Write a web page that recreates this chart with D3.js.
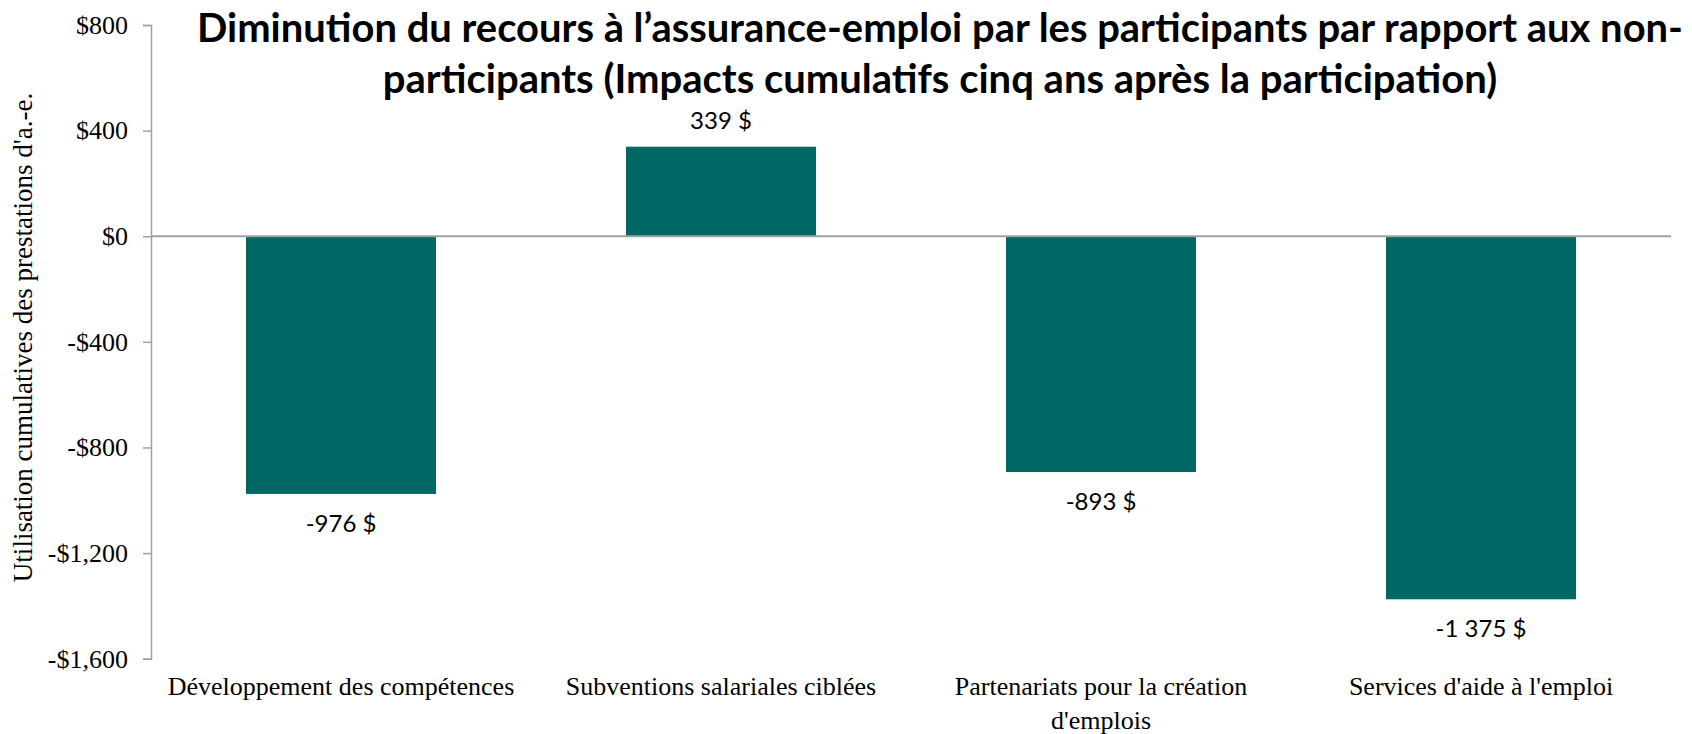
<!DOCTYPE html>
<html>
<head>
<meta charset="utf-8">
<script src="https://cdn.jsdelivr.net/npm/d3@7"></script>
<style>
  body { margin: 0; background: #fff; }
  svg { display: block; }
</style>
</head>
<body>
<svg id="chart"></svg>
<script>
// data
const categories = [
  "Développement des compétences",
  "Subventions salariales ciblées",
  "Partenariats pour la création d'emplois",
  "Services d'aide à l'emploi"
];
const values = [-976, 339, -893, -1375];
const valueLabels = ["-976 $", "339 $", "-893 $", "-1 375 $"];
const yTicks = [-1600, -1200, -800, -400, 0, 400, 800];
const titleLines = [
  "Diminution du recours à l’assurance-emploi par les participants par rapport aux non-",
  "participants (Impacts cumulatifs cinq ans après la participation)"
];
const yTitle = "Utilisation cumulatives des prestations d'a.-e.";

// dimensions
const width = 1692;
const height = 734;
const marginLeft = 151;
const marginRight = 21;
const plotTop = 25;
const plotBottom = 658.7;

const svg = d3.select('#chart')
  .attr('width', width)
  .attr('height', height);

const xScale = d3.scaleBand()
  .domain(categories)
  .range([marginLeft, width - marginRight])
  .paddingInner(0.5)
  .paddingOuter(0.25);

const yScale = d3.scaleLinear()
  .domain([-1600, 800])
  .range([plotBottom, plotTop]);

const money = (v) => (v < 0 ? '-$' : '$') + d3.format(',')(Math.abs(v));

// y axis
const yAxis = svg.append('g')
  .attr('transform', `translate(${marginLeft}, 0)`)
  .call(d3.axisLeft(yScale).tickValues(yTicks).tickFormat(money).tickSize(8).tickPadding(15).tickSizeOuter(8));

yAxis.select('.domain').attr('stroke', '#a0a0a0').attr('stroke-width', 1.5);
yAxis.selectAll('.tick line').attr('stroke', '#a0a0a0').attr('stroke-width', 1.5);
yAxis.selectAll('.tick text')
  .attr('fill', '#000')
  .style('font-family', '"Liberation Serif", "Times New Roman", serif')
  .style('font-size', '26px');

// bars
svg.append('g')
  .selectAll('rect')
  .data(values)
  .enter()
  .append('rect')
  .attr('x', (d, i) => xScale(categories[i]))
  .attr('y', (d) => yScale(Math.max(0, d)))
  .attr('width', xScale.bandwidth())
  .attr('height', (d) => Math.abs(yScale(d) - yScale(0)))
  .attr('fill', '#006864');

// zero line
svg.append('line')
  .attr('x1', marginLeft)
  .attr('x2', width - marginRight)
  .attr('y1', yScale(0))
  .attr('y2', yScale(0))
  .attr('stroke', '#a0a0a0')
  .attr('stroke-width', 2);

// value labels
svg.append('g')
  .selectAll('text')
  .data(values)
  .enter()
  .append('text')
  .attr('x', (d, i) => xScale(categories[i]) + xScale.bandwidth() / 2)
  .attr('y', (d) => d < 0 ? yScale(d) + 38 : yScale(d) - 18)
  .attr('text-anchor', 'middle')
  .style('font-family', 'Lato, "Open Sans", sans-serif')
  .style('font-size', '24px')
  .attr('fill', '#000')
  .text((d, i) => valueLabels[i]);

// x axis labels
const xAxis = svg.append('g')
  .attr('transform', `translate(0, ${plotBottom})`)
  .call(d3.axisBottom(xScale).tickSize(0).tickPadding(18));

xAxis.select('.domain').remove();
xAxis.selectAll('.tick text')
  .attr('fill', '#000')
  .style('font-family', '"Liberation Serif", "Times New Roman", serif')
  .style('font-size', '26px')
  .call(wrap, 370);

// y axis title
svg.append('text')
  .attr('transform', `translate(32, 337.5) rotate(-90)`)
  .attr('text-anchor', 'middle')
  .style('font-family', '"Liberation Serif", "Times New Roman", serif')
  .style('font-size', '27px')
  .attr('fill', '#000')
  .text(yTitle);

// title
const titleWidths = [1486, 1117];
svg.append('g')
  .selectAll('text')
  .data(titleLines)
  .enter()
  .append('text')
  .attr('x', 940)
  .attr('y', (d, i) => 42 + i * 51)
  .attr('text-anchor', 'middle')
  .style('font-family', 'Lato, "Open Sans", sans-serif')
  .style('font-weight', 'bold')
  .style('font-size', '40px')
  .attr('fill', '#000')
  .text((d) => d)
  .each(function (d, i) {
    if (this.getComputedTextLength() > titleWidths[i]) {
      d3.select(this)
        .attr('textLength', titleWidths[i])
        .attr('lengthAdjust', 'spacingAndGlyphs');
    }
  });

function wrap(text, width) {
  text.each(function () {
    var text = d3.select(this),
        words = text.text().split(/\s+/).reverse(),
        word,
        line = [],
        lineNumber = 0,
        lineHeight = 1.3, // ems
        y = text.attr("y"),
        dy = parseFloat(text.attr("dy")),
        tspan = text.text(null)
          .append("tspan")
          .attr("x", 0)
          .attr("y", y)
          .attr("dy", dy + "em");
    while (word = words.pop()) {
      line.push(word);
      tspan.text(line.join(" "));
      if (tspan.node().getComputedTextLength() > width) {
        line.pop();
        tspan.text(line.join(" "));
        line = [word];
        tspan = text.append("tspan")
          .attr("x", 0)
          .attr("y", y)
          .attr("dy", ++lineNumber * lineHeight + dy + "em")
          .text(word);
      }
    }
  });
}
</script>
</body>
</html>
